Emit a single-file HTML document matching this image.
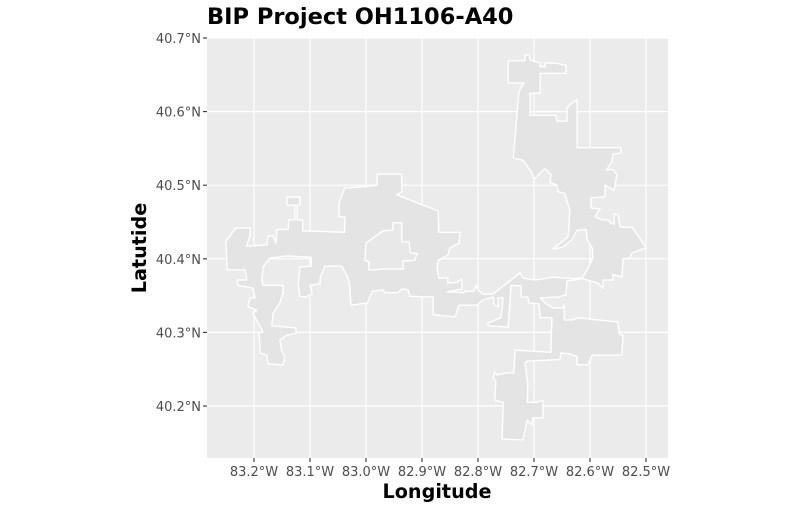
<!DOCTYPE html>
<html><head><meta charset="utf-8"><style>
body{margin:0;background:#fff;}
svg{display:block;font-family:"DejaVu Sans","Liberation Sans",sans-serif;}
</style></head><body>
<svg id="c" width="801" height="509" viewBox="0 0 801 509">
<rect x="207" y="38" width="461" height="420" fill="#EBEBEB"/>
<g id="grid"></g>
<g id="shapes"></g>
<g id="axes"></g>
<text x="207" y="24" font-size="22.5" font-weight="bold" fill="#000">BIP Project OH1106-A40</text>
<text x="437" y="498" font-size="19.2" font-weight="bold" text-anchor="middle" fill="#000">Longitude</text>
<text transform="translate(146,248) rotate(-90)" font-size="19.2" font-weight="bold" text-anchor="middle" fill="#000">Latutide</text>
</svg>
<script>
const lonTicks=[83.2,83.1,83.0,82.9,82.8,82.7,82.6,82.5];
const latTicks=[40.7,40.6,40.5,40.4,40.3,40.2];
const outerLon=[83.250,83.232,83.207,83.207,83.213,83.177,83.175,83.166,83.161,83.159,83.139,83.138,83.127,83.127,83.141,83.141,83.118,83.118,83.123,83.123,83.113,83.113,83.038,83.038,83.048,83.048,83.038,83.005,82.980,82.980,82.936,82.936,82.945,82.871,82.870,82.832,82.834,82.850,82.854,82.871,82.873,82.870,82.854,82.854,82.838,82.829,82.829,82.855,82.825,82.823,82.807,82.804,82.800,82.791,82.773,82.757,82.743,82.725,82.720,82.698,82.666,82.630,82.614,82.602,82.595,82.596,82.605,82.607,82.623,82.632,82.648,82.666,82.639,82.636,82.645,82.657,82.659,82.671,82.670,82.680,82.686,82.700,82.704,82.711,82.720,82.737,82.727,82.718,82.746,82.746,82.716,82.716,82.709,82.707,82.689,82.689,82.680,82.680,82.663,82.643,82.643,82.689,82.689,82.707,82.707,82.661,82.659,82.641,82.641,82.630,82.623,82.623,82.545,82.545,82.559,82.561,82.570,82.559,82.552,82.557,82.573,82.573,82.598,82.598,82.582,82.591,82.579,82.568,82.564,82.557,82.557,82.550,82.546,82.525,82.511,82.500,82.511,82.525,82.529,82.541,82.543,82.559,82.559,82.577,82.577,82.586,82.614,82.641,82.643,82.657,82.689,82.680,82.666,82.650,82.646,82.646,82.630,82.623,82.550,82.548,82.541,82.543,82.596,82.604,82.623,82.623,82.638,82.652,82.654,82.712,82.716,82.711,82.712,82.695,82.684,82.684,82.702,82.704,82.712,82.720,82.757,82.755,82.770,82.768,82.773,82.770,82.766,82.750,82.736,82.734,82.670,82.668,82.689,82.691,82.709,82.711,82.723,82.723,82.741,82.746,82.782,82.782,82.759,82.755,82.764,82.764,82.771,82.773,82.791,82.802,82.834,82.841,82.880,82.880,82.921,82.925,82.936,82.943,82.966,82.970,82.988,82.998,83.027,83.029,83.032,83.043,83.073,83.082,83.082,83.100,83.096,83.109,83.118,83.121,83.118,83.098,83.098,83.141,83.171,83.184,83.186,83.184,83.148,83.148,83.154,83.166,83.168,83.125,83.125,83.141,83.154,83.150,83.145,83.148,83.175,83.177,83.189,83.191,83.184,83.202,83.195,83.211,83.207,83.198,83.202,83.229,83.230,83.213,83.216,83.248];
const outerLat=[40.424,40.442,40.442,40.432,40.417,40.419,40.431,40.431,40.421,40.440,40.440,40.453,40.453,40.473,40.473,40.484,40.484,40.473,40.473,40.453,40.453,40.438,40.436,40.457,40.457,40.476,40.496,40.498,40.500,40.515,40.515,40.491,40.487,40.465,40.436,40.436,40.421,40.415,40.405,40.398,40.387,40.374,40.374,40.367,40.368,40.373,40.359,40.355,40.354,40.356,40.356,40.364,40.358,40.352,40.352,40.362,40.370,40.381,40.374,40.371,40.375,40.373,40.374,40.389,40.402,40.415,40.426,40.440,40.439,40.426,40.416,40.413,40.430,40.466,40.489,40.491,40.500,40.504,40.515,40.522,40.519,40.508,40.517,40.525,40.534,40.537,40.627,40.639,40.639,40.669,40.669,40.677,40.677,40.670,40.666,40.661,40.661,40.666,40.666,40.663,40.652,40.652,40.625,40.625,40.595,40.595,40.587,40.587,40.605,40.613,40.616,40.551,40.551,40.544,40.542,40.532,40.521,40.521,40.514,40.493,40.500,40.484,40.483,40.469,40.468,40.457,40.453,40.453,40.449,40.447,40.461,40.460,40.443,40.443,40.428,40.415,40.412,40.408,40.401,40.400,40.375,40.379,40.371,40.371,40.360,40.367,40.373,40.370,40.351,40.348,40.347,40.340,40.333,40.333,40.337,40.317,40.317,40.320,40.314,40.298,40.296,40.269,40.269,40.256,40.256,40.267,40.271,40.272,40.263,40.261,40.258,40.231,40.205,40.205,40.208,40.184,40.184,40.174,40.181,40.154,40.155,40.205,40.208,40.233,40.238,40.246,40.242,40.245,40.245,40.276,40.273,40.320,40.320,40.339,40.340,40.348,40.348,40.363,40.364,40.307,40.309,40.313,40.320,40.347,40.347,40.335,40.337,40.348,40.344,40.337,40.337,40.321,40.324,40.348,40.349,40.358,40.359,40.354,40.354,40.358,40.356,40.340,40.337,40.362,40.374,40.390,40.390,40.375,40.366,40.364,40.352,40.348,40.349,40.364,40.389,40.390,40.402,40.404,40.401,40.389,40.371,40.364,40.364,40.354,40.340,40.326,40.309,40.306,40.299,40.296,40.290,40.273,40.267,40.256,40.257,40.269,40.272,40.299,40.301,40.326,40.330,40.335,40.347,40.347,40.360,40.364,40.371,40.371,40.385,40.385];
const innerLon=[83.000,82.970,82.952,82.952,82.936,82.936,82.923,82.921,82.909,82.913,82.934,82.934,82.975,82.979,82.995,82.995,83.002];
const innerLat=[40.421,40.438,40.439,40.449,40.449,40.423,40.423,40.408,40.407,40.398,40.397,40.386,40.386,40.385,40.385,40.396,40.398];

const NS='http://www.w3.org/2000/svg';
const X0=207,X1=668,Y0=38,Y1=458;
function xs(lonW){return 254+(83.2-lonW)*560;}
function ys(lat){return 38+(40.7-lat)*736;}
function mk(tag,attrs,parent){const e=document.createElementNS(NS,tag);for(const k in attrs)e.setAttribute(k,attrs[k]);parent.appendChild(e);return e;}
const grid=document.getElementById('grid'),axes=document.getElementById('axes'),shapes=document.getElementById('shapes');
lonTicks.forEach(v=>{
  const x=xs(v);
  const g=mk('line',{x1:x,x2:x,y1:Y0,y2:Y1,stroke:'#fff','stroke-width':1.2},grid);
  
  
  const t=mk('line',{x1:x,x2:x,y1:Y1,y2:Y1+4,stroke:'#333','stroke-width':1.1},axes);
  
  
  const l=mk('text',{x:x,y:476,'font-size':13,'text-anchor':'middle',fill:'#4D4D4D'},axes);
  l.textContent=v.toFixed(1)+'°W';
  
  
});
latTicks.forEach(v=>{
  const y=ys(v);
  const g=mk('line',{x1:X0,x2:X1,y1:y,y2:y,stroke:'#fff','stroke-width':1.2},grid);
  
  
  const t=mk('line',{x1:X0-4,x2:X0,y1:y,y2:y,stroke:'#333','stroke-width':1.1},axes);
  
  
  const l=mk('text',{x:X0-6,y:y+5,'font-size':13,'text-anchor':'end',fill:'#4D4D4D'},axes);
  l.textContent=v.toFixed(1)+'°N';
  
  
});
function pts(lo,la){return lo.map((v,i)=>xs(v).toFixed(1)+','+ys(la[i]).toFixed(1)).join(' ');}
const p1=mk('polygon',{points:pts(outerLon,outerLat),fill:'#E4E4E4',stroke:'#fff','stroke-width':1.4,'stroke-linejoin':'round'},shapes);


const p2=mk('polygon',{points:pts(innerLon,innerLat),fill:'#E8E8E8',stroke:'#fff','stroke-width':1.4,'stroke-linejoin':'round'},shapes);


</script>
</body></html>
